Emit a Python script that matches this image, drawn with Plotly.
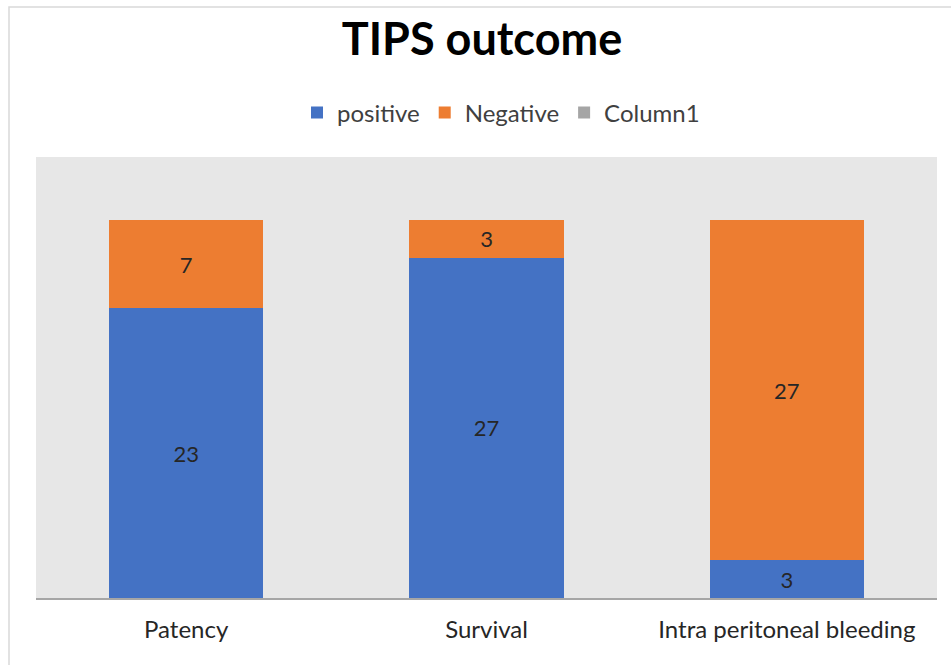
import plotly.graph_objects as go

categories = ["Patency", "Survival", "Intra peritoneal bleeding"]
positive = [23, 27, 3]
negative = [7, 3, 27]
column1 = [None, None, None]

W, H = 951, 665
L, R, T, B = 36, 14, 157, 67
pw, ph = W - L - R, H - T - B

FONT = "Lato, Open Sans, sans-serif"

fig = go.Figure()
fig.add_trace(go.Bar(
    name="positive", x=categories, y=positive, marker_color="#4472C4",
    text=positive, textposition="inside", insidetextanchor="middle",
    textangle=0, textfont=dict(size=22, color="#262626", family=FONT),
    marker_line_width=0,
))
fig.add_trace(go.Bar(
    name="Negative", x=categories, y=negative, marker_color="#ED7D31",
    text=negative, textposition="inside", insidetextanchor="middle",
    textangle=0, textfont=dict(size=22, color="#262626", family=FONT),
    marker_line_width=0,
))
fig.add_trace(go.Bar(
    name="Column1", x=categories, y=column1, marker_color="#A5A5A5",
    marker_line_width=0,
))

fig.update_layout(
    width=W, height=H,
    barmode="stack", bargap=0.487,
    paper_bgcolor="white", plot_bgcolor="#E7E7E7",
    margin=dict(l=L, r=R, t=T, b=B, pad=0),
    font=dict(family=FONT, color="#404040"),
    title=dict(text="<b>TIPS outcome</b>", x=(343 + 621) / 2 / W, xanchor="center",
               xref="container", yref="container", y=1 - 39 / H, yanchor="middle",
               font=dict(size=45, color="black", family=FONT)),
    legend=dict(orientation="h", x=(501 - L) / pw, xanchor="center",
                y=1 + (T - 113) / ph, yanchor="middle",
                font=dict(size=24, color="#404040", family=FONT),
                itemwidth=30, traceorder="normal"),
    uniformtext=dict(minsize=22, mode="show"),
    showlegend=True,
)
fig.update_xaxes(showline=True, linecolor="#A6A6A6", linewidth=2, ticks="",
                 tickfont=dict(size=24, color="#262626", family=FONT),
                 ticklabelstandoff=9,
                 showgrid=False, zeroline=False)
fig.update_yaxes(range=[0, 35], visible=False, showgrid=False, zeroline=False)

fig.add_shape(type="rect", xref="paper", yref="paper",
              x0=(9 - L) / pw, x1=(W + 5 - L) / pw,
              y0=-(B + 5) / ph, y1=1 + (T - 7) / ph,
              line=dict(color="#D9D9D9", width=1.5), fillcolor="rgba(0,0,0,0)",
              layer="below")

fig.write_html("out.html", config={"displayModeBar": False},
               post_script="document.body.style.margin='0px';document.body.style.overflow='hidden';")
